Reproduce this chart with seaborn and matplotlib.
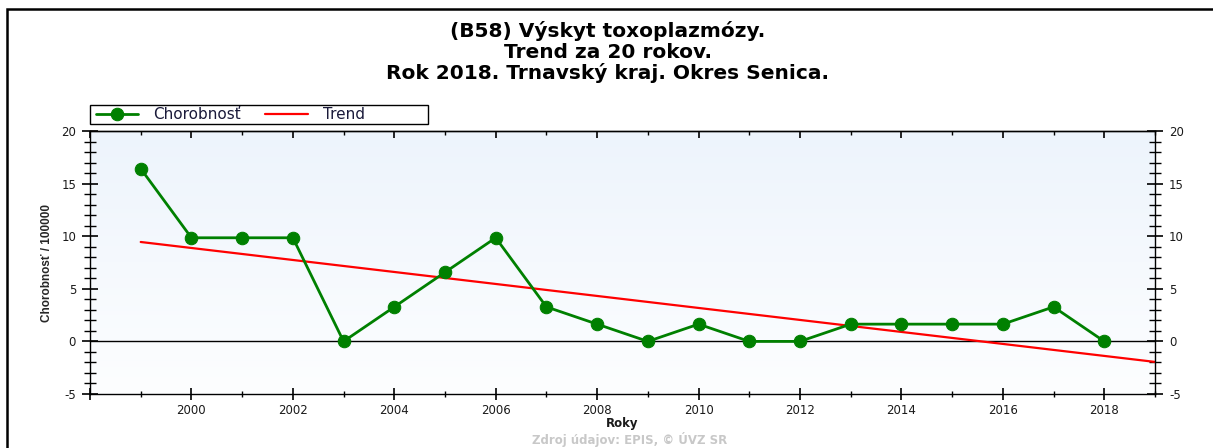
import numpy as np
import pandas as pd
import matplotlib
matplotlib.use("Agg")
import matplotlib.pyplot as plt
import seaborn as sns
from matplotlib.colors import LinearSegmentedColormap
from matplotlib.ticker import MultipleLocator, FuncFormatter, NullFormatter
from matplotlib.patches import Rectangle

years = [1999, 2000, 2001, 2002, 2003, 2004, 2005, 2006, 2007, 2008,
         2009, 2010, 2011, 2012, 2013, 2014, 2015, 2016, 2017, 2018]
chorobnost = [16.42, 9.85, 9.85, 9.85, 0.0, 3.28, 6.57, 9.85, 3.28, 1.64,
              0.0, 1.64, 0.0, 0.0, 1.64, 1.64, 1.64, 1.64, 3.28, 0.0]
trend_years = [1999, 2019]
trend_values = [9.45, -1.95]

title_lines = ["(B58) Výskyt toxoplazmózy.", "Trend za 20 rokov.",
               "Rok 2018. Trnavský kraj. Okres Senica."]
series_labels = ["Chorobnosť", "Trend"]
y_label = "Chorobnosť / 100000"
x_label = "Roky"
source_text = "Zdroj údajov: EPIS, © ÚVZ SR"

sns.set_theme(style="white")
plt.rcParams['font.family'] = ['DejaVu Sans']

fig = plt.figure(figsize=(12.13, 4.48), dpi=100)
ax = fig.add_axes([90/1213, 1-394/448, (1155-90)/1213, (394-131)/448])

# figure frame (left and top visible)
fig.patches.append(Rectangle((7/1213, -0.1), 1.2, 1 - 9/448 + 0.1, transform=fig.transFigure,
                             fill=False, edgecolor='black', linewidth=1.8, zorder=0))

# gradient background
cmap = LinearSegmentedColormap.from_list("bg", ["#fdfeff", "#edf4fc"])
grad = np.linspace(0, 1, 256).reshape(-1, 1)
ax.imshow(grad, cmap=cmap, extent=[1998, 2019, -5, 20], aspect='auto', origin='lower', zorder=0)

ax.axhline(0, color='black', linewidth=1.0, zorder=1)

df = pd.DataFrame({"Rok": years, "Hodnota": chorobnost})
tdf = pd.DataFrame({"Rok": trend_years, "Hodnota": trend_values})

sns.lineplot(data=tdf, x="Rok", y="Hodnota", color="#ff0000", linewidth=1.6, ax=ax,
             label=series_labels[1], zorder=2)
sns.lineplot(data=df, x="Rok", y="Hodnota", color="#008000", linewidth=2.0, marker='o',
             markersize=9, markeredgecolor="#008000", ax=ax, label=series_labels[0], zorder=3)

ax.set_xlim(1998, 2019)
ax.set_ylim(-5, 20)
ax.xaxis.set_major_locator(MultipleLocator(2))
ax.xaxis.set_minor_locator(MultipleLocator(1))
ax.yaxis.set_major_locator(MultipleLocator(5))
ax.yaxis.set_minor_locator(MultipleLocator(1))
ax.xaxis.set_major_formatter(FuncFormatter(lambda v, p: "" if v < 1999 or v > 2018.5 else str(int(round(v)))))
ax.yaxis.set_major_formatter(FuncFormatter(lambda v, p: str(int(round(v)))))

for s in ax.spines.values():
    s.set_color('black')
    s.set_linewidth(1.0)

ax.tick_params(axis='y', which='both', left=True, right=True, labelleft=True, labelright=True,
               direction='inout', colors='black', labelcolor='#1a1a1a', labelsize=8.5)
ax.tick_params(axis='y', which='major', length=12, width=1.2, pad=4)
ax.tick_params(axis='y', which='minor', length=8, width=1.0)
ax.tick_params(axis='x', which='both', bottom=True, top=False, direction='inout',
               colors='black', labelcolor='#1a1a1a', labelsize=8.5)
ax.tick_params(axis='x', which='major', length=8, width=1.2, pad=3)
ax.tick_params(axis='x', which='minor', length=5, width=1.0)

# inward ticks along the top
sec = ax.secondary_xaxis('top')
sec.xaxis.set_major_locator(MultipleLocator(2))
sec.xaxis.set_minor_locator(MultipleLocator(1))
sec.xaxis.set_major_formatter(NullFormatter())
sec.tick_params(which='both', direction='in', colors='black')
sec.tick_params(which='major', length=5, width=1.2)
sec.tick_params(which='minor', length=3, width=1.0)
sec.spines['top'].set_linewidth(1.0)

ax.set_xlabel(x_label, fontsize=8.5, fontweight='bold', labelpad=0, color='#1a1a1a')
ax.set_ylabel(y_label, fontsize=8.5, fontweight='bold', labelpad=6, family='Liberation Sans')

# legend
handles, labels = ax.get_legend_handles_labels()
order = [labels.index(series_labels[0]), labels.index(series_labels[1])]
leg = ax.legend([handles[i] for i in order], [labels[i] for i in order],
                loc='center left', bbox_to_anchor=(6/1065, 1 + (131-114.5)/263),
                ncol=2, frameon=False, fontsize=11, borderpad=0, borderaxespad=0,
                handlelength=2.75, handletextpad=1.0, columnspacing=1.6)
for t in leg.get_texts():
    t.set_color('#1a1a3a')
ax.add_patch(Rectangle((0, 1 + (131-124)/263), (428-90)/1065, (124-105)/263,
                       transform=ax.transAxes, fill=False, edgecolor='black',
                       linewidth=1.0, clip_on=False, zorder=5))

for i, line in enumerate(title_lines):
    fig.text(608/1213, 1-(31 + i*21)/448, line, fontsize=14.5, fontweight='bold',
             ha='center', va='center', color='black')

fig.text(630/1213, 1-447/448, source_text, fontsize=8.5, fontweight='bold', color='#c8c8c8',
         ha='center', va='bottom')

fig.savefig("out.png", dpi=100)
